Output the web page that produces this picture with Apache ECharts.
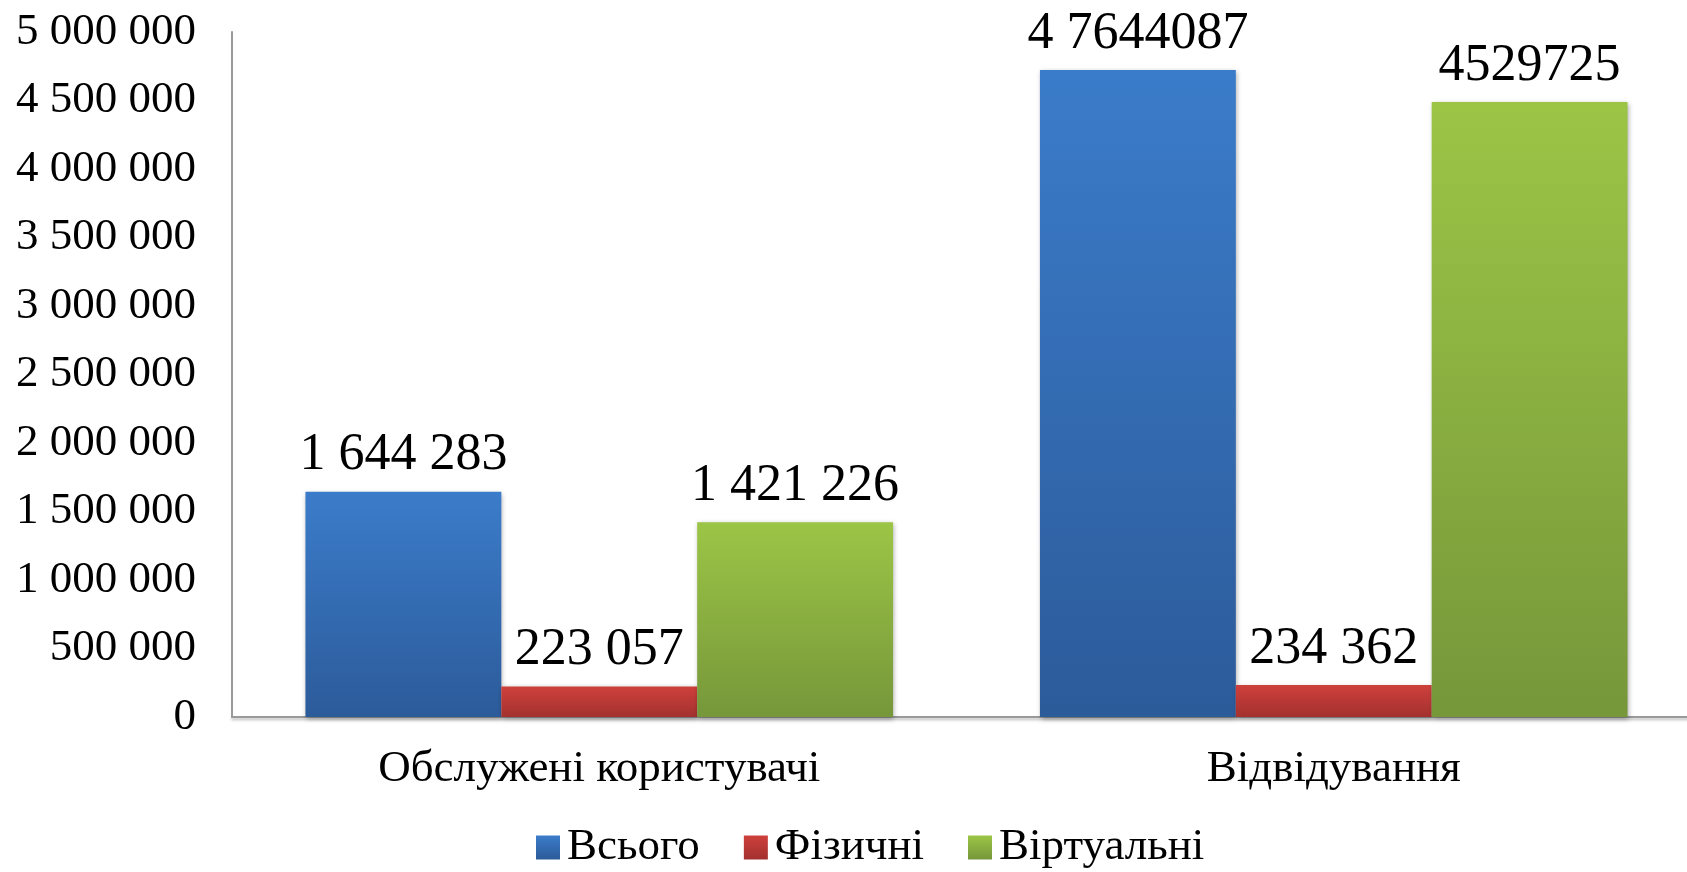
<!DOCTYPE html>
<html>
<head>
<meta charset="utf-8">
<script src="https://cdn.jsdelivr.net/npm/echarts@6/dist/echarts.min.js"></script>
<style>
html,body{margin:0;padding:0;background:#fff;overflow:hidden;width:1687px;height:872px;}
#chart{width:1701px;height:872px;}
</style>
</head>
<body>
<div id="chart"></div>
<script>
const categories = ['Обслужені користувачі', 'Відвідування'];
const seriesNames = ['Всього', 'Фізичні', 'Віртуальні'];
const totalValues = [1644283, 4722000];
const physicalValues = [223057, 234362];
const virtualValues = [1421226, 4489000];
const totalLabels = ['1 644 283', '4 7644087'];
const physicalLabels = ['223 057', '234 362'];
const virtualLabels = ['1 421 226', '4529725'];
const yTicks = { min: 0, max: 5000000, interval: 500000 };

const FONT = '"Liberation Serif", "Times New Roman", serif';

function grad(top, bottom) {
  return new echarts.graphic.LinearGradient(0, 0, 0, 1, [
    { offset: 0, color: top },
    { offset: 1, color: bottom }
  ]);
}

function fmt(v) {
  return String(v).replace(/\B(?=(\d{3})+(?!\d))/g, ' ');
}

function makeSeries(name, values, labels, top, bottom) {
  return {
    name: name,
    type: 'bar',
    data: values,
    barGap: '0%',
    barCategoryGap: '20%',
    itemStyle: {
      color: grad(top, bottom),
      shadowColor: 'rgba(0,0,0,0.35)',
      shadowBlur: 5,
      shadowOffsetX: 1,
      shadowOffsetY: 2
    },
    label: {
      show: true,
      position: 'top',
      distance: 10,
      fontFamily: FONT,
      fontSize: 52,
      color: '#000',
      formatter: function (p) { return labels[p.dataIndex]; }
    },
    emphasis: { disabled: true }
  };
}

const chart = echarts.init(document.getElementById('chart'), null, { renderer: 'canvas' });
chart.setOption({
  backgroundColor: '#fff',
  animation: false,
  color: ['#3B7CCA', '#CF403C', '#9CC546'],
  grid: { left: 232, top: 32, right: 0, bottom: 155, containLabel: false },
  legend: {
    data: seriesNames,
    left: 531,
    top: 820,
    icon: 'rect',
    itemWidth: 24,
    itemHeight: 24,
    itemGap: 44,
    textStyle: { fontFamily: FONT, fontSize: 45, color: '#000', padding: [0, 0, 0, 2] }
  },
  xAxis: {
    type: 'category',
    data: categories,
    axisLine: { show: true, lineStyle: { color: '#9a9a9a', width: 2, shadowColor: 'rgba(0,0,0,0.3)', shadowBlur: 3, shadowOffsetY: 2 } },
    axisTick: { show: false },
    axisLabel: { fontFamily: FONT, fontSize: 45, color: '#000', margin: 30 }
  },
  yAxis: {
    type: 'value',
    min: yTicks.min,
    max: yTicks.max,
    interval: yTicks.interval,
    axisLine: { show: true, lineStyle: { color: '#9a9a9a', width: 2 } },
    axisTick: { show: false },
    splitLine: { show: false },
    axisLabel: { fontFamily: FONT, fontSize: 45, color: '#000', margin: 36, formatter: fmt }
  },
  series: [
    makeSeries(seriesNames[0], totalValues, totalLabels, '#3B7CCA', '#2C5B9A'),
    makeSeries(seriesNames[1], physicalValues, physicalLabels, '#CF403C', '#A2312F'),
    makeSeries(seriesNames[2], virtualValues, virtualLabels, '#9CC546', '#76973A')
  ]
});
</script>
</body>
</html>
